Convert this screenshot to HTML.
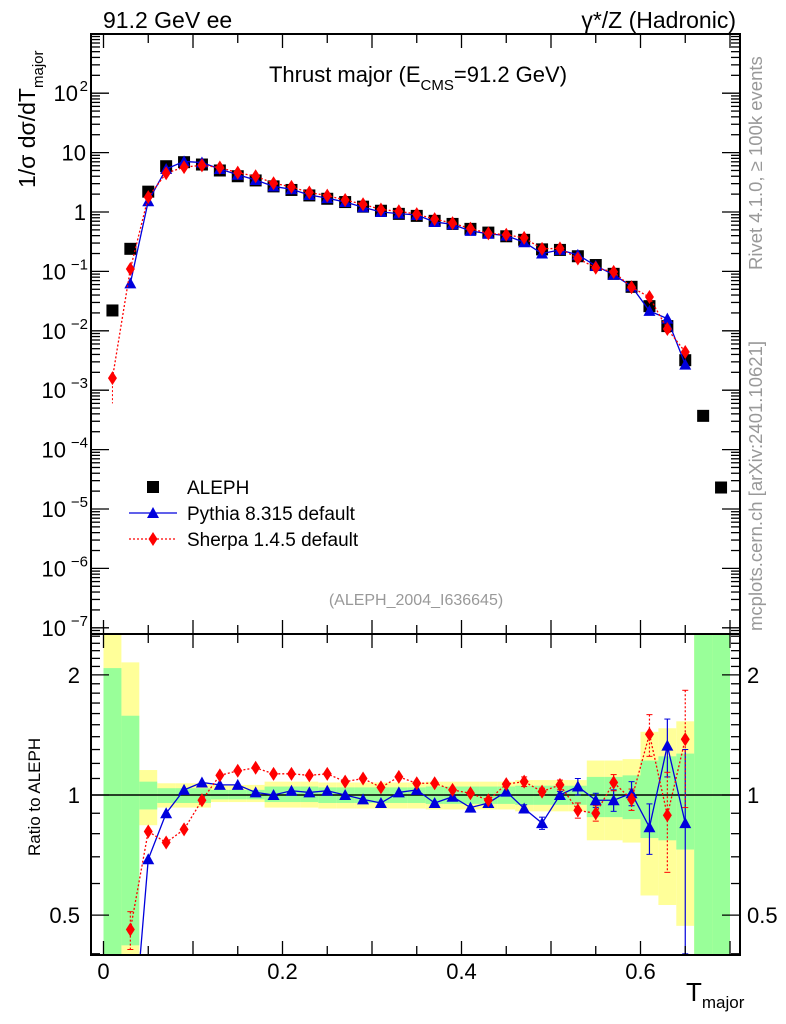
<!DOCTYPE html>
<html><head><meta charset="utf-8"><style>
html,body{margin:0;background:#fff;width:786px;height:1024px;overflow:hidden;position:relative;}
svg{display:block;font-family:"Liberation Sans",sans-serif;}
</style></head><body>
<svg id="c" width="786" height="1024" style="position:absolute;left:0;top:0" xmlns="http://www.w3.org/2000/svg"></svg>
<script>
const centers=[0.01,0.03,0.05,0.07,0.09,0.11,0.13,0.15,0.17,0.19,0.21,0.23,0.25,0.27,0.29,0.31,0.33,0.35,0.37,0.39,0.41,0.43,0.45,0.47,0.49,0.51,0.53,0.55,0.57,0.59,0.61,0.63,0.65,0.67,0.69];
const aleph=[0.022,0.24,2.2,5.9,6.9,6.3,5.0,4.0,3.4,2.7,2.35,1.9,1.67,1.47,1.23,1.05,0.93,0.86,0.71,0.63,0.52,0.45,0.39,0.34,0.235,0.23,0.18,0.128,0.091,0.055,0.026,0.012,0.0032,3.7e-4,2.3e-5];
const pythia=[null,0.063,1.52,5.3,7.1,6.8,5.3,4.24,3.45,2.7,2.41,1.93,1.71,1.47,1.2,1.0,0.94,0.89,0.68,0.62,0.48,0.43,0.40,0.31,0.20,0.23,0.19,0.124,0.088,0.056,0.0216,0.016,0.0027];
const sherpa=[0.0016,0.11,1.78,4.5,5.7,6.1,5.6,4.6,4.0,3.05,2.65,2.13,1.89,1.59,1.35,1.10,1.03,0.92,0.76,0.65,0.525,0.437,0.415,0.367,0.24,0.244,0.165,0.115,0.098,0.054,0.037,0.0107,0.0044];
const pythiaRatio=[null,0.2,0.69,0.90,1.03,1.075,1.06,1.06,1.015,1.0,1.025,1.015,1.025,1.0,0.975,0.955,1.015,1.03,0.955,0.99,0.93,0.955,1.02,0.925,0.85,1.0,1.05,0.97,0.97,1.01,0.83,1.33,0.85];
const pythiaRatioErr=[0,0,0,0,0,0,0,0,0,0,0,0,0,0,0,0,0,0,0,0,0,0,0,0.02,0.03,0.02,0.05,0.04,0.06,0.07,0.12,0.22,0.45];
const sherpaRatio=[null,0.46,0.81,0.76,0.82,0.97,1.12,1.15,1.17,1.13,1.13,1.12,1.13,1.08,1.10,1.045,1.11,1.07,1.07,1.03,1.01,0.97,1.065,1.08,1.02,1.06,0.915,0.90,1.075,0.975,1.42,0.89,1.38];
const sherpaRatioErr=[0,0.05,0,0,0,0,0,0,0,0,0,0,0,0,0,0,0,0,0,0,0,0,0,0.03,0.02,0.03,0.04,0.04,0.05,0.06,0.17,0.25,0.45];
const bandYHi=[2.6,2.15,1.155,1.07,1.07,1.07,1.06,1.06,1.06,1.08,1.08,1.08,1.075,1.075,1.075,1.075,1.075,1.075,1.08,1.08,1.08,1.08,1.08,1.09,1.09,1.09,1.09,1.22,1.22,1.23,1.44,1.47,1.53,3,3];
const bandYLo=[0.3,0.3,0.84,0.93,0.93,0.93,0.96,0.96,0.96,0.93,0.93,0.93,0.925,0.925,0.925,0.925,0.925,0.925,0.92,0.92,0.92,0.92,0.92,0.91,0.91,0.91,0.91,0.77,0.77,0.76,0.56,0.53,0.47,0.3,0.3];
const bandGHi=[2.08,1.58,1.08,1.04,1.04,1.04,1.03,1.03,1.03,1.05,1.05,1.05,1.045,1.045,1.045,1.045,1.045,1.045,1.05,1.05,1.05,1.05,1.05,1.055,1.055,1.055,1.055,1.11,1.11,1.12,1.22,1.25,1.27,3,3];
const bandGLo=[0.3,0.42,0.92,0.955,0.955,0.955,0.975,0.975,0.975,0.96,0.96,0.96,0.955,0.955,0.955,0.955,0.955,0.955,0.95,0.95,0.95,0.95,0.95,0.945,0.945,0.945,0.945,0.88,0.88,0.87,0.78,0.77,0.73,0.3,0.3];
const xTickLabels=["0","0.2","0.4","0.6"];

const L=91,R=740,T=34,MB=634,RB=955;
const X=v=>103.5+v*895;
const Y=v=>212-Math.log10(v)*59.4;
const YR=v=>795-Math.log10(v)*399;
const svg=document.getElementById('c');
const NS='http://www.w3.org/2000/svg';
function el(t,a,p){const e=document.createElementNS(NS,t);for(const k in a)e.setAttribute(k,a[k]);(p||svg).appendChild(e);return e;}
function txt(s,a,p){const e=el('text',a,p);e.textContent=s;return e;}

const defs=el('defs',{});
const cm=el('clipPath',{id:'cm'},defs);el('rect',{x:L,y:T,width:R-L,height:MB-T},cm);
const cr=el('clipPath',{id:'cr'},defs);el('rect',{x:L,y:MB,width:R-L,height:RB-MB},cr);

const gb=el('g',{'clip-path':'url(#cr)'});


for(let i=0;i<centers.length;i++){
  const x0=X(centers[i]-0.01),x1=X(centers[i]+0.01);
  const ry=el('rect',{x:x0,y:YR(bandYHi[i]),width:x1-x0,height:YR(bandYLo[i])-YR(bandYHi[i]),fill:'#ffff99'},gb);
  
  
}
for(let i=0;i<centers.length;i++){
  const x0=X(centers[i]-0.01),x1=X(centers[i]+0.01);
  const rg=el('rect',{x:x0,y:YR(bandGHi[i]),width:x1-x0,height:YR(bandGLo[i])-YR(bandGHi[i]),fill:'#99ff99'},gb);
  
  
}
el('line',{x1:L,x2:R,y1:YR(1),y2:YR(1),stroke:'#000','stroke-width':1.5},gb);

function tri(x,y,c,p){return el('polygon',{points:`${x},${y-6} ${x-6},${y+5} ${x+6},${y+5}`,fill:c},p);}
function dia(x,y,c,p){return el('polygon',{points:`${x},${y-7} ${x-4.5},${y} ${x},${y+7} ${x+4.5},${y}`,fill:c},p);}

const gm=el('g',{'clip-path':'url(#cm)'});
for(let i=0;i<aleph.length;i++){
  const s=el('rect',{x:X(centers[i])-6,y:Y(aleph[i])-6,width:12,height:12,fill:'#000'},gm);
  
  
}
function series(vals,fy,col,dash,mk,p,name){
  let d='';vals.forEach((v,i)=>{if(v==null)return;d+=(d?'L':'M')+X(centers[i])+','+fy(v);});
  const l=el('path',{d:d,fill:'none',stroke:col,'stroke-width':1.3,'stroke-dasharray':dash||'none'},p);
  
  
  vals.forEach((v,i)=>{if(v==null)return;const m=mk(X(centers[i]),fy(v),col,p);
    
    });
}
series(pythia,Y,'#0000dd',null,tri,gm,'pythia');
series(sherpa,Y,'#ff0000','2,2',dia,gm,'sherpa');

const gr=el('g',{'clip-path':'url(#cr)'});
function errs(vals,e,col,dash,p){vals.forEach((v,i)=>{if(v==null||!e[i])return;const x=X(centers[i]);
  const lo=Math.max(v-e[i],0.05);
  el('line',{x1:x,x2:x,y1:YR(v+e[i]),y2:YR(lo),stroke:col,'stroke-width':1.2,'stroke-dasharray':dash||'none'},p);
  el('line',{x1:x-3,x2:x+3,y1:YR(v+e[i]),y2:YR(v+e[i]),stroke:col},p);
  el('line',{x1:x-3,x2:x+3,y1:YR(lo),y2:YR(lo),stroke:col},p);});}
errs(pythiaRatio,pythiaRatioErr,'#0000dd',null,gr);
errs(sherpaRatio,sherpaRatioErr,'#ff0000','2,2',gr);
series(pythiaRatio,YR,'#0000dd',null,tri,gr,'pythia-ratio');
series(sherpaRatio,YR,'#ff0000','2,2',dia,gr,'sherpa-ratio');
el('line',{x1:X(0.01),x2:X(0.01),y1:Y(0.0016),y2:Y(0.0006),stroke:'#f00','stroke-dasharray':'2,2'},gm);

const fr=el('g',{fill:'none',stroke:'#000','stroke-width':2});


el('rect',{x:L,y:T,width:R-L,height:MB-T},fr);
el('rect',{x:L,y:MB,width:R-L,height:RB-MB},fr);

const tk=el('g',{stroke:'#000','stroke-width':1.3});
for(let k=0;k<=14;k++){const v=k*0.05,x=X(v);if(x>R)break;const len=(k%2==0)?14:9;
  [T,MB,RB].forEach(y=>{
    if(y!==T)el('line',{x1:x,x2:x,y1:y,y2:y-len},tk);
    if(y!==RB)el('line',{x1:x,x2:x,y1:y,y2:y+len},tk);});}
xTickLabels.forEach((s,i)=>{const t=txt(s,{x:X(i*0.2),y:979,'font-size':22,'text-anchor':'middle'});
  
  });

for(let e=-8;e<=2;e++){
  for(let m=1;m<10;m++){const v=m*Math.pow(10,e),y=Y(v);if(y<T||y>MB)continue;const len=m==1?18:9;
    el('line',{x1:L,x2:L+len,y1:y,y2:y},tk);el('line',{x1:R,x2:R-len,y1:y,y2:y},tk);}
}
const ylab=el('g',{'font-size':22,'text-anchor':'end'});


for(let e=-7;e<=2;e++){const y=Y(Math.pow(10,e))+8;
  if(e==0)txt('1',{x:86,y:y},ylab);
  else if(e==1)txt('10',{x:86,y:y},ylab);
  else{const w=(e<0?22:10);txt('10',{x:88-w,y:y},ylab);
    txt(String(e).replace('-','−'),{x:88,y:y-10,'font-size':15},ylab);}
}

[0.4,0.5,0.6,0.7,0.8,0.9,1,1.1,1.2,1.3,1.4,1.5,1.6,1.7,1.8,1.9,2,2.1,2.2,2.3,2.4,2.5].forEach(v=>{const y=YR(v);if(y<MB||y>RB)return;
  const len=(v==0.5||v==1||v==2)?18:9;el('line',{x1:L,x2:L+len,y1:y,y2:y},tk);el('line',{x1:R,x2:R-len,y1:y,y2:y},tk);});
[['2',2],['1',1],['0.5',0.5]].forEach(([s,v])=>{
  const a=txt(s,{x:80,y:YR(v)+8,'font-size':22,'text-anchor':'end'});
  const b=txt(s,{x:747,y:YR(v)+8,'font-size':22});});
</script>
<svg width="786" height="1024" style="position:absolute;left:0;top:0;font-family:'Liberation Sans',sans-serif" xmlns="http://www.w3.org/2000/svg">
<text x="103" y="28" font-size="23">91.2 GeV ee</text>
<text x="736" y="28" font-size="23" text-anchor="end">γ*/Z (Hadronic)</text>
<text x="418" y="82" font-size="22" text-anchor="middle">Thrust major (E<tspan font-size="15" dy="8">CMS</tspan><tspan dy="-8">=91.2 GeV)</tspan></text>
<text transform="translate(35,188) rotate(-90)" font-size="23">1/σ  dσ/dT<tspan font-size="15" dy="8">major</tspan></text>
<text transform="translate(40,856) rotate(-90)" font-size="17">Ratio to ALEPH</text>
<text x="686" y="1001" font-size="26">T<tspan font-size="17" dy="7">major</tspan></text>
<text transform="translate(762,270) rotate(-90)" font-size="18.5" fill="#999">Rivet 4.1.0, ≥ 100k events</text>
<text transform="translate(762,631) rotate(-90)" font-size="18.5" fill="#999">mcplots.cern.ch [arXiv:2401.10621]</text>
<text x="416" y="605" font-size="16" fill="#999" text-anchor="middle">(ALEPH_2004_I636645)</text>
<g font-size="19">
<rect x="147" y="481" width="12" height="12" fill="#000"/>
<text x="187" y="494">ALEPH</text>
<line x1="129" x2="177" y1="513" y2="513" stroke="#0000dd" stroke-width="1.3"/>
<polygon points="153,507 147,518 159,518" fill="#0000dd"/>
<text x="187" y="520">Pythia 8.315 default</text>
<line x1="129" x2="177" y1="539" y2="539" stroke="#f00" stroke-width="1.3" stroke-dasharray="2,2"/>
<polygon points="153,532 148.5,539 153,546 157.5,539" fill="#f00"/>
<text x="187" y="546">Sherpa 1.4.5 default</text>
</g>
</svg>
</body></html>
